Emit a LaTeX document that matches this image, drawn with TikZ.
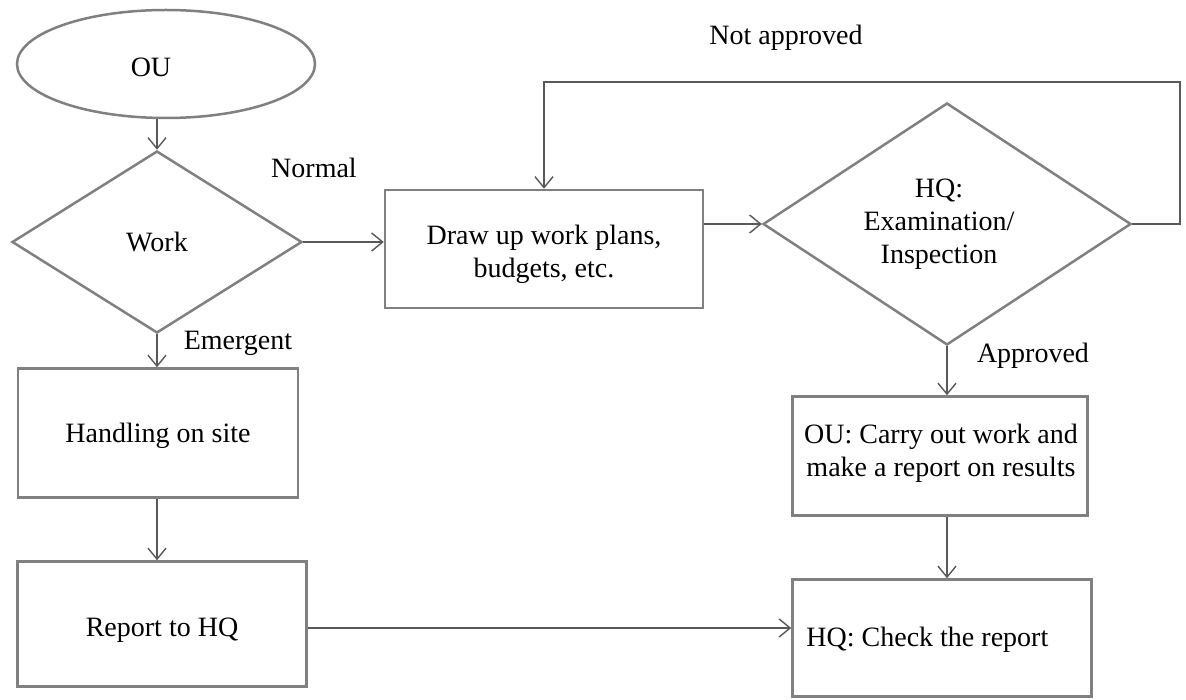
\documentclass[tikz,border=0pt]{standalone}
\usepackage{fontspec}
\setmainfont{Liberation Serif}
\usetikzlibrary{shapes.geometric,arrows.meta}
\begin{document}
\begin{tikzpicture}[x=1pt,y=-1pt,
  every node/.style={font=\fontsize{28}{33}\selectfont, text=black},
  box/.style={draw=black!50, line width=2.5pt, rectangle, inner sep=0pt, align=center},
  dia/.style={draw=black!50, line width=2.5pt, diamond, inner sep=0pt},
  oval/.style={draw=black!50, line width=2.5pt, ellipse, inner sep=0pt},
  lbl/.style={inner sep=0pt},
  arr/.style={draw=black!65, line width=1.4pt, -{Straight Barb[length=11pt,width=18pt,line width=1.4pt]}}]
\useasboundingbox (0,0) rectangle (1186,700);
\fill[white] (0,0) rectangle (1186,700);

% start
\node[oval, minimum width=298, minimum height=108] (ou) at (166,64) {};
\node[lbl] (outxt) at (151,67) {OU};

% decision: kind of work
\node[dia, minimum width=290, minimum height=182] (work) at (157,242) {};
\node[lbl] at (work.center) {Work};

% normal branch
\node[box, minimum width=318, minimum height=118] (plan) at (544,249) {};
\node[lbl, align=center] at ([yshift=-5pt]plan.center) {Draw up work plans,\\budgets, etc.};
\node[dia, minimum width=368, minimum height=242] (hq) at (947,224) {};
\node[lbl, align=center] at (939,224) {HQ:\\Examination/\\Inspection};
\node[box, minimum width=295, minimum height=119] (carry) at (940,456) {};
\node[lbl, align=center] at (941,453) {OU: Carry out work and\\make a report on results};
\node[box, minimum width=299, minimum height=117] (check) at (942,638) {};
\node[lbl, anchor=west] at ([xshift=15pt,yshift=-2pt]check.west) {HQ: Check the report};

% emergent branch
\node[box, minimum width=280, minimum height=129] (site) at (158,433) {};
\node[lbl] at ([yshift=-3pt]site.center) {Handling on site};
\node[box, minimum width=289, minimum height=125] (report) at (162,624) {};
\node[lbl] at ([yshift=-6pt]report.center) {Report to HQ};

% branch labels
\node[lbl] at (314,168) {Normal};
\node[lbl] at (238,343) {Emergent};
\node[lbl] at (786,38) {Not approved};
\node[lbl] at (1033,356) {Approved};

% connectors
\coordinate (loop) at (1180,82);
\draw[arr] (ou.south -| work.north) -- (work.north);
\draw[arr] (work.east) -- (work.east -| plan.west);
\draw[arr] (hq.west -| plan.east) -- (hq.west);
\draw[arr] (hq.east) -| (loop) -| (plan.north);
\draw[arr] (hq.south) -- (hq.south |- carry.north);
\draw[arr] (carry.south -| hq.south) -- (check.north -| hq.south);
\draw[arr] (work.south) -- (work.south |- site.north);
\draw[arr] (site.south -| work.south) -- (report.north -| work.south);
\draw[arr] ([yshift=-4pt]report.east) -- ([yshift=-4pt]report.east -| check.west);
\end{tikzpicture}
\end{document}
